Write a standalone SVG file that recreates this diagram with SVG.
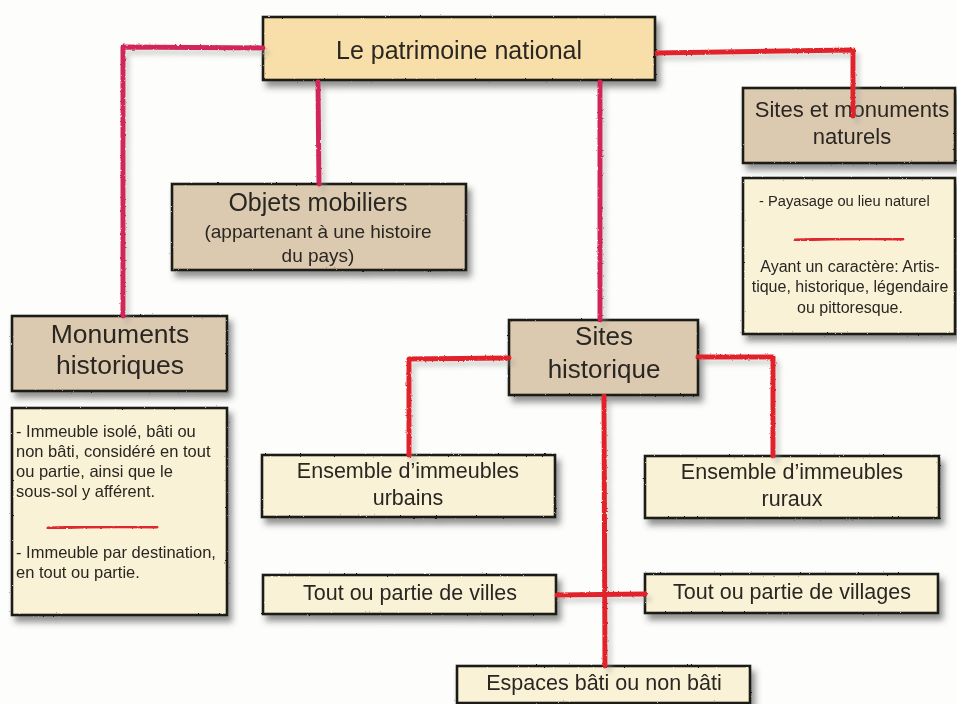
<svg xmlns="http://www.w3.org/2000/svg" width="957" height="704" viewBox="0 0 957 704">
  <defs>
    <filter id="shadow" x="-10%" y="-20%" width="130%" height="160%">
      <feDropShadow dx="4" dy="6" stdDeviation="3" flood-color="#3a3a3a" flood-opacity="0.55"/>
    </filter>
    <filter id="lineShadow" x="-10%" y="-10%" width="130%" height="130%">
      <feTurbulence type="fractalNoise" baseFrequency="0.4" numOctaves="2" seed="7" result="n"/>
      <feDisplacementMap in="SourceGraphic" in2="n" scale="2.5" xChannelSelector="R" yChannelSelector="G" result="r"/>
      <feGaussianBlur in="r" stdDeviation="2.5" result="b"/>
      <feOffset in="b" dx="4" dy="5" result="o"/>
      <feColorMatrix in="o" type="matrix" values="0 0 0 0 0.33  0 0 0 0 0.33  0 0 0 0 0.33  0 0 0 0.45 0" result="s"/>
      <feMerge><feMergeNode in="s"/><feMergeNode in="r"/></feMerge>
    </filter>
    <filter id="rough" x="-5%" y="-10%" width="110%" height="120%">
      <feTurbulence type="fractalNoise" baseFrequency="0.45" numOctaves="2" seed="3" result="n"/>
      <feDisplacementMap in="SourceGraphic" in2="n" scale="1.8" xChannelSelector="R" yChannelSelector="G"/>
    </filter>
  </defs>
  <style>
    .box { stroke: #1b1a18; stroke-width: 2.6; filter: url(#rough); }
    .gold { fill: #f8dfa9; }
    .tan { fill: #dccab0; }
    .cream { fill: #f9f2d7; }
    text { font-family: "Liberation Sans", Arial, sans-serif; fill: #2a2622; }
    .c { text-anchor: middle; }
    .link { fill: none; stroke-width: 5; stroke-linecap: round; stroke-linejoin: round; }
    .crimson { stroke: #d2285a; }
    .red { stroke: #e2242c; }
    .sep { fill: none; stroke: #e0282e; stroke-width: 3; stroke-linecap: round; }
  </style>

  <rect x="0" y="0" width="957" height="704" fill="#fdfdfb"/>

  <!-- nodes -->
  <g id="patrimoine" filter="url(#shadow)">
    <rect class="box gold" x="263" y="17" width="392" height="63"/>
    <text class="c" x="459" y="59" font-size="25">Le patrimoine national</text>
  </g>

  <g id="objets" filter="url(#shadow)">
    <rect class="box tan" x="172" y="184" width="294" height="86"/>
    <text class="c" x="318" y="211" font-size="25">Objets mobiliers</text>
    <text class="c" x="318" y="238" font-size="19">(appartenant à une histoire</text>
    <text class="c" x="318" y="262" font-size="19">du pays)</text>
  </g>

  <g id="monuments" filter="url(#shadow)">
    <rect class="box tan" x="12" y="316" width="215" height="75"/>
    <text class="c" x="120" y="343" font-size="26.5">Monuments</text>
    <text class="c" x="120" y="374" font-size="26.5">historiques</text>
  </g>

  <g id="monuments-details" filter="url(#shadow)">
    <rect class="box cream" x="12" y="408" width="215" height="207"/>
    <text x="16" y="437" font-size="16.5">- Immeuble isolé, bâti ou</text>
    <text x="16" y="457" font-size="16.5">non bâti, considéré en tout</text>
    <text x="16" y="477" font-size="16.5">ou partie, ainsi que le</text>
    <text x="16" y="497" font-size="16.5">sous-sol y afférent.</text>
    <path class="sep" d="M48,528 Q100,526 157,527" filter="url(#lineShadow)"/>
    <text x="16" y="558" font-size="16.5">- Immeuble par destination,</text>
    <text x="16" y="578" font-size="16.5">en tout ou partie.</text>
  </g>

  <g id="sites-naturels" filter="url(#shadow)">
    <rect class="box tan" x="743" y="88" width="212" height="75"/>
    <text class="c" x="852" y="117" font-size="22">Sites et monuments</text>
    <text class="c" x="852" y="144" font-size="22">naturels</text>
  </g>

  <g id="sites-naturels-details" filter="url(#shadow)">
    <rect class="box cream" x="743" y="178" width="212" height="156"/>
    <text x="759" y="206" font-size="14.7">- Payasage ou lieu naturel</text>
    <path class="sep" d="M795,240 Q850,238 903,239" filter="url(#lineShadow)"/>
    <text class="c" x="850" y="272" font-size="16">Ayant un caractère: Artis-</text>
    <text class="c" x="850" y="292" font-size="16">tique, historique, légendaire</text>
    <text class="c" x="850" y="313" font-size="16">ou pittoresque.</text>
  </g>

  <g id="sites-historique" filter="url(#shadow)">
    <rect class="box tan" x="509" y="320" width="189" height="75"/>
    <text class="c" x="604" y="345" font-size="26">Sites</text>
    <text class="c" x="604" y="378" font-size="26">historique</text>
  </g>

  <g id="urbains" filter="url(#shadow)">
    <rect class="box cream" x="262" y="455" width="293" height="62"/>
    <text class="c" x="408" y="478" font-size="21.5">Ensemble d’immeubles</text>
    <text class="c" x="408" y="505" font-size="21.5">urbains</text>
  </g>

  <g id="ruraux" filter="url(#shadow)">
    <rect class="box cream" x="645" y="456" width="294" height="62"/>
    <text class="c" x="792" y="479" font-size="21.5">Ensemble d’immeubles</text>
    <text class="c" x="792" y="506" font-size="21.5">ruraux</text>
  </g>

  <g id="villes" filter="url(#shadow)">
    <rect class="box cream" x="263" y="575" width="293" height="39"/>
    <text class="c" x="410" y="600" font-size="21.5">Tout ou partie de villes</text>
  </g>

  <g id="villages" filter="url(#shadow)">
    <rect class="box cream" x="645" y="574" width="293" height="39"/>
    <text class="c" x="792" y="599" font-size="21.5">Tout ou partie de villages</text>
  </g>

  <g id="espaces" filter="url(#shadow)">
    <rect class="box cream" x="457" y="666" width="293" height="37"/>
    <text class="c" x="604" y="690" font-size="21.5">Espaces bâti ou non bâti</text>
  </g>

  <!-- connectors -->
  <g id="connectors" filter="url(#lineShadow)">
    <path class="link crimson" d="M263,48 L123,47 L123,316"/>
    <path class="link crimson" d="M318,82 L319,184"/>
    <path class="link crimson" d="M600,82 L600,320"/>
    <path class="link red" d="M657,53 L853,50 L853,116"/>
    <path class="link red" d="M509,358 L409,359 L409,455"/>
    <path class="link red" d="M698,357 L773,357 L773,456"/>
    <path class="link red" d="M604,396 L605,666"/>
    <path class="link red" d="M557,595 L645,594"/>
  </g>
</svg>
